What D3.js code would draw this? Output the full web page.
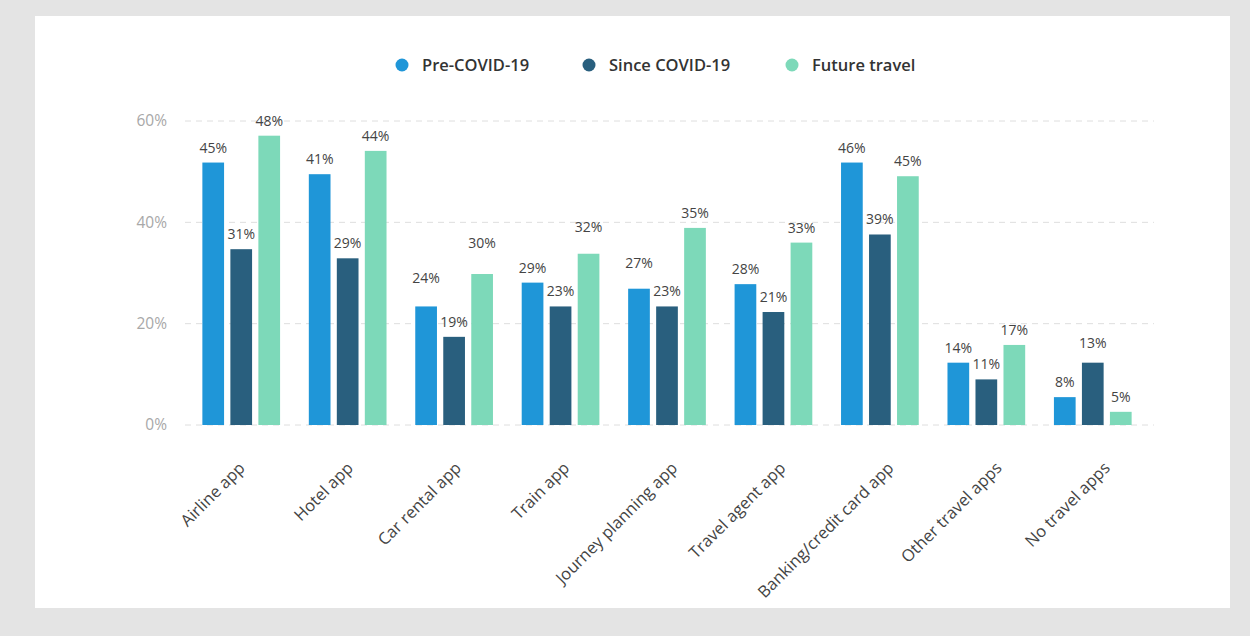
<!DOCTYPE html>
<html>
<head>
<meta charset="utf-8">
<script src="https://cdn.jsdelivr.net/npm/d3@7"></script>
<style>
  html, body { margin: 0; padding: 0; background: #e4e4e4; }
  svg { display: block; }
</style>
</head>
<body>
<svg id="chart" width="1250" height="636"></svg>
<script>
// categorias y series
const categories = ["Airline app", "Hotel app", "Car rental app", "Train app", "Journey planning app",
    "Travel agent app", "Banking/credit card app", "Other travel apps", "No travel apps"];
const seriesNames = ["Pre-COVID-19", "Since COVID-19", "Future travel"];

// alturas de las barras
const preCovid = [51.8, 49.5, 23.4, 28.1, 26.9, 27.8, 51.8, 12.3, 5.5];
const sinceCovid = [34.7, 32.9, 17.4, 23.4, 23.4, 22.3, 37.6, 9.0, 12.3];
const futureTravel = [57.1, 54.1, 29.8, 33.8, 38.9, 36.0, 49.1, 15.8, 2.6];

// etiquetas que se muestran encima
const preLabels = [45, 41, 24, 29, 27, 28, 46, 14, 8];
const sinceLabels = [31, 29, 19, 23, 23, 21, 39, 11, 13];
const futureLabels = [48, 44, 30, 32, 35, 33, 45, 17, 5];

const yTicks = [0, 20, 40, 60];

const colors = ["#1f96d8", "#295f7e", "#7dd9b9"];

const svg = d3.select("#chart");

// fondo y tarjeta blanca
svg.append("rect").attr("width", 1250).attr("height", 636).attr("fill", "#e4e4e4");
svg.append("rect")
    .attr("x", 35).attr("y", 16)
    .attr("width", 1195).attr("height", 592)
    .attr("fill", "#ffffff");

const values = [preCovid, sinceCovid, futureTravel];
const labels = [preLabels, sinceLabels, futureLabels];

const data = categories.map((c, i) => ({
    cat: c,
    bars: seriesNames.map((s, j) => ({ cat: c, serie: s, j: j, value: values[j][i], label: labels[j][i] }))
}));

const x0 = d3.scaleBand()
    .domain(categories)
    .range([188, 1146])
    .paddingInner(0.27)
    .paddingOuter(0.135);

const x1 = d3.scaleBand()
    .domain(seriesNames)
    .range([0, x0.bandwidth()])
    .paddingInner(0.225);

const y = d3.scaleLinear().domain([0, 60]).range([425, 121]);

// las etiquetas del eje x van un poco mas separadas que las barras
const xLabel = d3.scalePoint().domain(categories).range([246, 1111]);

// grid
svg.append("g")
    .selectAll("line")
    .data(yTicks)
    .join("line")
    .attr("x1", 185)
    .attr("x2", 1154)
    .attr("y1", d => y(d))
    .attr("y2", d => y(d))
    .attr("stroke", "#dedede")
    .attr("stroke-width", 1)
    .attr("stroke-dasharray", "6,5");

// eje y
const yAxis = d3.axisLeft(y).tickValues(yTicks).tickFormat(d => d + "%").tickSize(0).tickPadding(0);
const gy = svg.append("g")
    .attr("transform", "translate(167,0)")
    .call(yAxis);
gy.select(".domain").remove();
gy.selectAll("text")
    .attr("font-family", "'Open Sans', sans-serif")
    .attr("font-size", 15.5)
    .attr("fill", "#a8a8a8");

// barras
const groups = svg.append("g")
    .selectAll("g")
    .data(data)
    .join("g")
    .attr("transform", d => `translate(${x0(d.cat)},0)`);

groups.selectAll("rect")
    .data(d => d.bars)
    .join("rect")
    .attr("x", d => x1(d.serie))
    .attr("y", d => y(d.value))
    .attr("width", x1.bandwidth())
    .attr("height", d => y(0) - y(d.value))
    .attr("fill", d => colors[d.j]);

// algunos textos estan subidos en el original
const nudge = {
    "Car rental app|0": 13,
    "Car rental app|2": 16,
    "Train app|2": 12,
    "Journey planning app|0": 11,
    "No travel apps|1": 5
};

groups.selectAll("text")
    .data(d => d.bars)
    .join("text")
    .attr("x", d => x1(d.serie) + x1.bandwidth() / 2)
    .attr("y", d => y(d.value) - 10 - (nudge[d.cat + "|" + d.j] || 0))
    .attr("text-anchor", "middle")
    .attr("font-family", "'Open Sans', sans-serif")
    .attr("font-size", 14)
    .attr("fill", "#444")
    .text(d => d.label + "%");

// etiquetas del eje x
svg.append("g")
    .selectAll("text")
    .data(categories)
    .join("text")
    .attr("transform", d => `translate(${xLabel(d)},469) rotate(-45)`)
    .attr("text-anchor", "end")
    .attr("font-family", "'Open Sans', sans-serif")
    .attr("font-size", 16.5)
    .attr("fill", "#444")
    .text(d => d);

// leyenda
const legendX = [402, 589, 792];
const legend = svg.append("g")
    .selectAll("g")
    .data(seriesNames)
    .join("g")
    .attr("transform", (d, i) => `translate(${legendX[i]},65)`);

legend.append("circle")
    .attr("r", 6.5)
    .attr("fill", (d, i) => colors[i]);

legend.append("text")
    .attr("x", 20)
    .attr("dy", "0.35em")
    .attr("font-family", "'Open Sans', sans-serif")
    .attr("font-weight", 600)
    .attr("font-size", 16.5)
    .attr("fill", "#333")
    .text(d => d);
</script>
</body>
</html>
